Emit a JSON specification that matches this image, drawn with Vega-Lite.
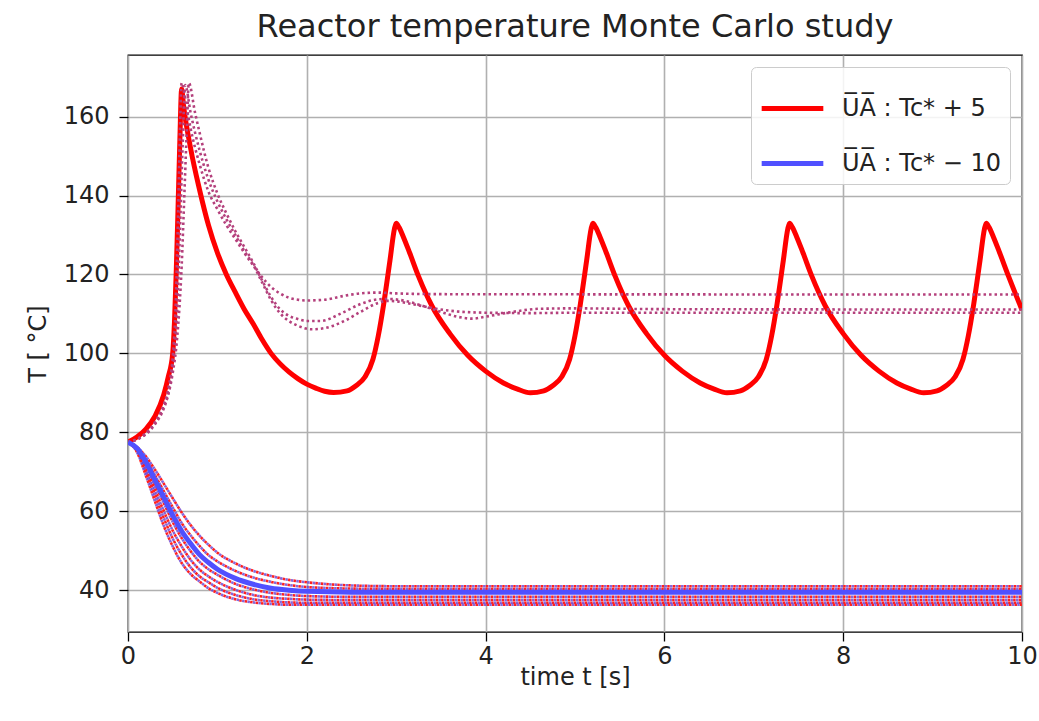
{
"$schema": "https://vega.github.io/schema/vega-lite/v6.json",
"width": 894, "height": 577,
"autosize": {"type": "none"},
"padding": {"left": 128, "top": 55, "right": 17, "bottom": 89},
"background": "white",
"title": {"text": "Reactor temperature Monte Carlo study", "font": "DejaVu Sans", "fontSize": 32, "fontWeight": "normal", "color": "#222", "offset": 11, "anchor": "middle"},
"datasets": {
"solid": [
{"s":"U\u0305A\u0305 : Tc* + 5","t":0,"v":77.5},{"s":"U\u0305A\u0305 : Tc* + 5","t":0.1,"v":78.8},{"s":"U\u0305A\u0305 : Tc* + 5","t":0.2,"v":80.8},{"s":"U\u0305A\u0305 : Tc* + 5","t":0.3,"v":84},{"s":"U\u0305A\u0305 : Tc* + 5","t":0.4,"v":89.5},{"s":"U\u0305A\u0305 : Tc* + 5","t":0.45,"v":94},{"s":"U\u0305A\u0305 : Tc* + 5","t":0.5,"v":100},{"s":"U\u0305A\u0305 : Tc* + 5","t":0.52,"v":108},{"s":"U\u0305A\u0305 : Tc* + 5","t":0.54,"v":121},{"s":"U\u0305A\u0305 : Tc* + 5","t":0.56,"v":137},{"s":"U\u0305A\u0305 : Tc* + 5","t":0.58,"v":154},{"s":"U\u0305A\u0305 : Tc* + 5","t":0.6,"v":167},{"s":"U\u0305A\u0305 : Tc* + 5","t":0.62,"v":163},{"s":"U\u0305A\u0305 : Tc* + 5","t":0.7,"v":152},{"s":"U\u0305A\u0305 : Tc* + 5","t":0.8,"v":141.5},{"s":"U\u0305A\u0305 : Tc* + 5","t":0.9,"v":132.5},{"s":"U\u0305A\u0305 : Tc* + 5","t":1.0,"v":125.5},{"s":"U\u0305A\u0305 : Tc* + 5","t":1.1,"v":120},{"s":"U\u0305A\u0305 : Tc* + 5","t":1.2,"v":115.5},{"s":"U\u0305A\u0305 : Tc* + 5","t":1.3,"v":111.2},{"s":"U\u0305A\u0305 : Tc* + 5","t":1.4,"v":107.5},{"s":"U\u0305A\u0305 : Tc* + 5","t":1.5,"v":103.5},{"s":"U\u0305A\u0305 : Tc* + 5","t":1.6,"v":100},{"s":"U\u0305A\u0305 : Tc* + 5","t":1.7,"v":97.4},{"s":"U\u0305A\u0305 : Tc* + 5","t":1.8,"v":95.3},{"s":"U\u0305A\u0305 : Tc* + 5","t":1.9,"v":93.6},{"s":"U\u0305A\u0305 : Tc* + 5","t":2.0,"v":92.2},{"s":"U\u0305A\u0305 : Tc* + 5","t":2.1,"v":91.2},{"s":"U\u0305A\u0305 : Tc* + 5","t":2.2,"v":90.4},{"s":"U\u0305A\u0305 : Tc* + 5","t":2.3,"v":90.1},
{"s":"U\u0305A\u0305 : Tc* + 5","t":2.45,"v":90.5},{"s":"U\u0305A\u0305 : Tc* + 5","t":2.55,"v":91.8},{"s":"U\u0305A\u0305 : Tc* + 5","t":2.65,"v":94},{"s":"U\u0305A\u0305 : Tc* + 5","t":2.74,"v":98.5},{"s":"U\u0305A\u0305 : Tc* + 5","t":2.8,"v":104.5},{"s":"U\u0305A\u0305 : Tc* + 5","t":2.86,"v":112.5},{"s":"U\u0305A\u0305 : Tc* + 5","t":2.93,"v":123.5},{"s":"U\u0305A\u0305 : Tc* + 5","t":2.98,"v":131.5},{"s":"U\u0305A\u0305 : Tc* + 5","t":3.0,"v":133},{"s":"U\u0305A\u0305 : Tc* + 5","t":3.03,"v":132},{"s":"U\u0305A\u0305 : Tc* + 5","t":3.08,"v":129.5},{"s":"U\u0305A\u0305 : Tc* + 5","t":3.15,"v":125.5},{"s":"U\u0305A\u0305 : Tc* + 5","t":3.25,"v":119.5},{"s":"U\u0305A\u0305 : Tc* + 5","t":3.4,"v":112},{"s":"U\u0305A\u0305 : Tc* + 5","t":3.6,"v":105},{"s":"U\u0305A\u0305 : Tc* + 5","t":3.8,"v":99.5},{"s":"U\u0305A\u0305 : Tc* + 5","t":4.0,"v":95.5},{"s":"U\u0305A\u0305 : Tc* + 5","t":4.2,"v":92.5},{"s":"U\u0305A\u0305 : Tc* + 5","t":4.35,"v":91},{"s":"U\u0305A\u0305 : Tc* + 5","t":4.5,"v":90},
{"s":"U\u0305A\u0305 : Tc* + 5","t":4.65,"v":90.5},{"s":"U\u0305A\u0305 : Tc* + 5","t":4.75,"v":91.8},{"s":"U\u0305A\u0305 : Tc* + 5","t":4.85,"v":94},{"s":"U\u0305A\u0305 : Tc* + 5","t":4.94,"v":98.5},{"s":"U\u0305A\u0305 : Tc* + 5","t":5.0,"v":104.5},{"s":"U\u0305A\u0305 : Tc* + 5","t":5.06,"v":112.5},{"s":"U\u0305A\u0305 : Tc* + 5","t":5.13,"v":123.5},{"s":"U\u0305A\u0305 : Tc* + 5","t":5.18,"v":131.5},{"s":"U\u0305A\u0305 : Tc* + 5","t":5.2,"v":133},{"s":"U\u0305A\u0305 : Tc* + 5","t":5.23,"v":132},{"s":"U\u0305A\u0305 : Tc* + 5","t":5.28,"v":129.5},{"s":"U\u0305A\u0305 : Tc* + 5","t":5.35,"v":125.5},{"s":"U\u0305A\u0305 : Tc* + 5","t":5.45,"v":119.5},{"s":"U\u0305A\u0305 : Tc* + 5","t":5.6,"v":112},{"s":"U\u0305A\u0305 : Tc* + 5","t":5.8,"v":105},{"s":"U\u0305A\u0305 : Tc* + 5","t":6.0,"v":99.5},{"s":"U\u0305A\u0305 : Tc* + 5","t":6.2,"v":95.5},{"s":"U\u0305A\u0305 : Tc* + 5","t":6.4,"v":92.5},{"s":"U\u0305A\u0305 : Tc* + 5","t":6.55,"v":91},{"s":"U\u0305A\u0305 : Tc* + 5","t":6.7,"v":90},
{"s":"U\u0305A\u0305 : Tc* + 5","t":6.85,"v":90.5},{"s":"U\u0305A\u0305 : Tc* + 5","t":6.95,"v":91.8},{"s":"U\u0305A\u0305 : Tc* + 5","t":7.05,"v":94},{"s":"U\u0305A\u0305 : Tc* + 5","t":7.14,"v":98.5},{"s":"U\u0305A\u0305 : Tc* + 5","t":7.2,"v":104.5},{"s":"U\u0305A\u0305 : Tc* + 5","t":7.26,"v":112.5},{"s":"U\u0305A\u0305 : Tc* + 5","t":7.33,"v":123.5},{"s":"U\u0305A\u0305 : Tc* + 5","t":7.38,"v":131.5},{"s":"U\u0305A\u0305 : Tc* + 5","t":7.4,"v":133},{"s":"U\u0305A\u0305 : Tc* + 5","t":7.43,"v":132},{"s":"U\u0305A\u0305 : Tc* + 5","t":7.48,"v":129.5},{"s":"U\u0305A\u0305 : Tc* + 5","t":7.55,"v":125.5},{"s":"U\u0305A\u0305 : Tc* + 5","t":7.65,"v":119.5},{"s":"U\u0305A\u0305 : Tc* + 5","t":7.8,"v":112},{"s":"U\u0305A\u0305 : Tc* + 5","t":8.0,"v":105},{"s":"U\u0305A\u0305 : Tc* + 5","t":8.2,"v":99.5},{"s":"U\u0305A\u0305 : Tc* + 5","t":8.4,"v":95.5},{"s":"U\u0305A\u0305 : Tc* + 5","t":8.6,"v":92.5},{"s":"U\u0305A\u0305 : Tc* + 5","t":8.75,"v":91},{"s":"U\u0305A\u0305 : Tc* + 5","t":8.9,"v":90},
{"s":"U\u0305A\u0305 : Tc* + 5","t":9.05,"v":90.5},{"s":"U\u0305A\u0305 : Tc* + 5","t":9.15,"v":91.8},{"s":"U\u0305A\u0305 : Tc* + 5","t":9.25,"v":94},{"s":"U\u0305A\u0305 : Tc* + 5","t":9.34,"v":98.5},{"s":"U\u0305A\u0305 : Tc* + 5","t":9.4,"v":104.5},{"s":"U\u0305A\u0305 : Tc* + 5","t":9.46,"v":112.5},{"s":"U\u0305A\u0305 : Tc* + 5","t":9.53,"v":123.5},{"s":"U\u0305A\u0305 : Tc* + 5","t":9.58,"v":131.5},{"s":"U\u0305A\u0305 : Tc* + 5","t":9.6,"v":133},{"s":"U\u0305A\u0305 : Tc* + 5","t":9.63,"v":132},{"s":"U\u0305A\u0305 : Tc* + 5","t":9.68,"v":129.5},{"s":"U\u0305A\u0305 : Tc* + 5","t":9.75,"v":125.5},{"s":"U\u0305A\u0305 : Tc* + 5","t":9.85,"v":119.5},{"s":"U\u0305A\u0305 : Tc* + 5","t":10.0,"v":111},
{"s":"U\u0305A\u0305 : Tc* \u2212 10","t":0,"v":77.5},{"s":"U\u0305A\u0305 : Tc* \u2212 10","t":0.1,"v":76},{"s":"U\u0305A\u0305 : Tc* \u2212 10","t":0.2,"v":72.5},{"s":"U\u0305A\u0305 : Tc* \u2212 10","t":0.3,"v":68},{"s":"U\u0305A\u0305 : Tc* \u2212 10","t":0.4,"v":63.5},{"s":"U\u0305A\u0305 : Tc* \u2212 10","t":0.5,"v":59},{"s":"U\u0305A\u0305 : Tc* \u2212 10","t":0.6,"v":55},{"s":"U\u0305A\u0305 : Tc* \u2212 10","t":0.7,"v":51.8},{"s":"U\u0305A\u0305 : Tc* \u2212 10","t":0.8,"v":49},{"s":"U\u0305A\u0305 : Tc* \u2212 10","t":0.9,"v":47},{"s":"U\u0305A\u0305 : Tc* \u2212 10","t":1.0,"v":45.3},{"s":"U\u0305A\u0305 : Tc* \u2212 10","t":1.2,"v":43},{"s":"U\u0305A\u0305 : Tc* \u2212 10","t":1.4,"v":41.5},{"s":"U\u0305A\u0305 : Tc* \u2212 10","t":1.6,"v":40.5},{"s":"U\u0305A\u0305 : Tc* \u2212 10","t":1.8,"v":40},{"s":"U\u0305A\u0305 : Tc* \u2212 10","t":2.0,"v":39.7},{"s":"U\u0305A\u0305 : Tc* \u2212 10","t":2.5,"v":39.5},{"s":"U\u0305A\u0305 : Tc* \u2212 10","t":10,"v":39.5}
],
"up": [
{"r":"u1","t":0,"v":77.5},{"r":"u1","t":0.1,"v":78.3},{"r":"u1","t":0.2,"v":79.8},{"r":"u1","t":0.3,"v":82.5},{"r":"u1","t":0.4,"v":87},{"r":"u1","t":0.45,"v":91},{"r":"u1","t":0.5,"v":99},{"r":"u1","t":0.53,"v":110},{"r":"u1","t":0.56,"v":135},{"r":"u1","t":0.58,"v":155},{"r":"u1","t":0.6,"v":168.5},{"r":"u1","t":0.65,"v":163},{"r":"u1","t":0.7,"v":157},{"r":"u1","t":0.8,"v":148},{"r":"u1","t":0.9,"v":141},{"r":"u1","t":1.0,"v":136.5},{"r":"u1","t":1.1,"v":132.5},{"r":"u1","t":1.2,"v":129},{"r":"u1","t":1.3,"v":125.5},{"r":"u1","t":1.4,"v":122.3},{"r":"u1","t":1.5,"v":119.3},{"r":"u1","t":1.6,"v":116.8},{"r":"u1","t":1.7,"v":115.2},{"r":"u1","t":1.8,"v":114.1},{"r":"u1","t":1.9,"v":113.6},{"r":"u1","t":2.0,"v":113.4},{"r":"u1","t":2.2,"v":113.6},{"r":"u1","t":2.4,"v":114.5},{"r":"u1","t":2.6,"v":115.2},{"r":"u1","t":2.8,"v":115.4},{"r":"u1","t":3.0,"v":115.2},{"r":"u1","t":3.5,"v":115},{"r":"u1","t":10,"v":114.9},
{"r":"u2","t":0,"v":77.5},{"r":"u2","t":0.1,"v":78.2},{"r":"u2","t":0.2,"v":79.5},{"r":"u2","t":0.3,"v":82},{"r":"u2","t":0.4,"v":86},{"r":"u2","t":0.45,"v":89.5},{"r":"u2","t":0.5,"v":95},{"r":"u2","t":0.55,"v":104},{"r":"u2","t":0.6,"v":122},{"r":"u2","t":0.63,"v":140},{"r":"u2","t":0.66,"v":158},{"r":"u2","t":0.68,"v":168.5},{"r":"u2","t":0.75,"v":161},{"r":"u2","t":0.8,"v":156},{"r":"u2","t":0.9,"v":147},{"r":"u2","t":1.0,"v":140.5},{"r":"u2","t":1.1,"v":135.5},{"r":"u2","t":1.2,"v":131},{"r":"u2","t":1.3,"v":127},{"r":"u2","t":1.4,"v":123},{"r":"u2","t":1.5,"v":118.5},{"r":"u2","t":1.6,"v":114.3},{"r":"u2","t":1.7,"v":111.2},{"r":"u2","t":1.8,"v":109.5},{"r":"u2","t":1.9,"v":108.7},{"r":"u2","t":2.0,"v":108.2},{"r":"u2","t":2.15,"v":108.2},{"r":"u2","t":2.4,"v":110.3},{"r":"u2","t":2.6,"v":112.5},{"r":"u2","t":2.8,"v":113.7},{"r":"u2","t":2.9,"v":113.8},{"r":"u2","t":3.1,"v":113.3},{"r":"u2","t":3.3,"v":112},{"r":"u2","t":3.5,"v":110.5},{"r":"u2","t":3.7,"v":109.2},{"r":"u2","t":3.85,"v":108.8},{"r":"u2","t":4.0,"v":109.3},{"r":"u2","t":4.3,"v":110.5},{"r":"u2","t":4.6,"v":111.3},{"r":"u2","t":5.0,"v":111.4},{"r":"u2","t":6.0,"v":111.2},{"r":"u2","t":10,"v":111.1},
{"r":"u3","t":0,"v":77.5},{"r":"u3","t":0.1,"v":78.2},{"r":"u3","t":0.2,"v":79.6},{"r":"u3","t":0.3,"v":82.2},{"r":"u3","t":0.4,"v":86.5},{"r":"u3","t":0.45,"v":90},{"r":"u3","t":0.5,"v":97},{"r":"u3","t":0.55,"v":111},{"r":"u3","t":0.58,"v":130},{"r":"u3","t":0.61,"v":152},{"r":"u3","t":0.64,"v":168},{"r":"u3","t":0.7,"v":161},{"r":"u3","t":0.8,"v":151.5},{"r":"u3","t":0.9,"v":144},{"r":"u3","t":1.0,"v":138.5},{"r":"u3","t":1.1,"v":134},{"r":"u3","t":1.2,"v":130},{"r":"u3","t":1.3,"v":126},{"r":"u3","t":1.4,"v":122.5},{"r":"u3","t":1.5,"v":118},{"r":"u3","t":1.6,"v":113.5},{"r":"u3","t":1.7,"v":110.2},{"r":"u3","t":1.8,"v":108.2},{"r":"u3","t":1.9,"v":107},{"r":"u3","t":2.05,"v":106.1},{"r":"u3","t":2.2,"v":106.4},{"r":"u3","t":2.4,"v":108},{"r":"u3","t":2.6,"v":110.5},{"r":"u3","t":2.8,"v":112.8},{"r":"u3","t":2.9,"v":113.3},{"r":"u3","t":3.0,"v":113.2},{"r":"u3","t":3.2,"v":112.4},{"r":"u3","t":3.4,"v":111.5},{"r":"u3","t":3.6,"v":110.8},{"r":"u3","t":4.0,"v":110.3},{"r":"u3","t":4.5,"v":110.2},{"r":"u3","t":5.0,"v":110.3},{"r":"u3","t":10,"v":110.3}
],
"low": [
{"r":"a","t":0,"v":77.5},{"r":"a","t":0.1,"v":76.3},{"r":"a","t":0.2,"v":73.9},{"r":"a","t":0.3,"v":70.6},{"r":"a","t":0.4,"v":67},{"r":"a","t":0.5,"v":63.3},{"r":"a","t":0.6,"v":59.7},{"r":"a","t":0.7,"v":56.5},{"r":"a","t":0.8,"v":53.8},{"r":"a","t":0.9,"v":51.5},{"r":"a","t":1.0,"v":49.5},{"r":"a","t":1.2,"v":46.8},{"r":"a","t":1.4,"v":44.9},{"r":"a","t":1.6,"v":43.6},{"r":"a","t":1.8,"v":42.6},{"r":"a","t":2.0,"v":42},{"r":"a","t":2.5,"v":41.2},{"r":"a","t":3.0,"v":41},{"r":"a","t":10,"v":41},
{"r":"b","t":0,"v":77.5},{"r":"b","t":0.1,"v":76.1},{"r":"b","t":0.2,"v":73.1},{"r":"b","t":0.3,"v":69.2},{"r":"b","t":0.4,"v":65.1},{"r":"b","t":0.5,"v":61},{"r":"b","t":0.6,"v":57},{"r":"b","t":0.7,"v":53.9},{"r":"b","t":0.8,"v":51.2},{"r":"b","t":0.9,"v":48.9},{"r":"b","t":1.0,"v":47.3},{"r":"b","t":1.2,"v":44.9},{"r":"b","t":1.4,"v":43.2},{"r":"b","t":1.6,"v":42.1},{"r":"b","t":1.8,"v":41.3},{"r":"b","t":2.0,"v":40.8},{"r":"b","t":2.5,"v":40.4},{"r":"b","t":3.0,"v":40.3},{"r":"b","t":10,"v":40.3},
{"r":"c","t":0,"v":77.5},{"r":"c","t":0.1,"v":75.9},{"r":"c","t":0.2,"v":71.9},{"r":"c","t":0.3,"v":66.9},{"r":"c","t":0.4,"v":62.1},{"r":"c","t":0.5,"v":57.3},{"r":"c","t":0.6,"v":53.2},{"r":"c","t":0.7,"v":49.9},{"r":"c","t":0.8,"v":47.2},{"r":"c","t":0.9,"v":45.3},{"r":"c","t":1.0,"v":43.9},{"r":"c","t":1.2,"v":41.6},{"r":"c","t":1.4,"v":40.2},{"r":"c","t":1.6,"v":39.3},{"r":"c","t":1.8,"v":38.8},{"r":"c","t":2.0,"v":38.5},{"r":"c","t":2.5,"v":38.3},{"r":"c","t":10,"v":38.3},
{"r":"d","t":0,"v":77.5},{"r":"d","t":0.1,"v":75.6},{"r":"d","t":0.2,"v":71},{"r":"d","t":0.3,"v":65.5},{"r":"d","t":0.4,"v":60.1},{"r":"d","t":0.5,"v":55.1},{"r":"d","t":0.6,"v":51.1},{"r":"d","t":0.7,"v":47.7},{"r":"d","t":0.8,"v":45.2},{"r":"d","t":0.9,"v":43.5},{"r":"d","t":1.0,"v":42.1},{"r":"d","t":1.2,"v":40.1},{"r":"d","t":1.4,"v":38.8},{"r":"d","t":1.6,"v":38.1},{"r":"d","t":1.8,"v":37.8},{"r":"d","t":2.0,"v":37.6},{"r":"d","t":2.5,"v":37.5},{"r":"d","t":10,"v":37.5},
{"r":"e","t":0,"v":77.5},{"r":"e","t":0.1,"v":75.3},{"r":"e","t":0.2,"v":70},{"r":"e","t":0.3,"v":64.2},{"r":"e","t":0.4,"v":58.3},{"r":"e","t":0.5,"v":53.1},{"r":"e","t":0.6,"v":49},{"r":"e","t":0.7,"v":45.8},{"r":"e","t":0.8,"v":43.5},{"r":"e","t":0.9,"v":42},{"r":"e","t":1.0,"v":40.6},{"r":"e","t":1.2,"v":38.8},{"r":"e","t":1.4,"v":37.7},{"r":"e","t":1.6,"v":37.2},{"r":"e","t":1.8,"v":36.9},{"r":"e","t":2.0,"v":36.8},{"r":"e","t":10,"v":36.8},
{"r":"f","t":0,"v":77.5},{"r":"f","t":0.1,"v":75},{"r":"f","t":0.2,"v":69},{"r":"f","t":0.3,"v":62.6},{"r":"f","t":0.4,"v":56.3},{"r":"f","t":0.5,"v":51.1},{"r":"f","t":0.6,"v":46.9},{"r":"f","t":0.7,"v":44.1},{"r":"f","t":0.8,"v":42.2},{"r":"f","t":0.9,"v":40.5},{"r":"f","t":1.0,"v":39.3},{"r":"f","t":1.2,"v":37.7},{"r":"f","t":1.4,"v":36.9},{"r":"f","t":1.6,"v":36.5},{"r":"f","t":1.8,"v":36.3},{"r":"f","t":10,"v":36.3}
]
},
"encoding": {
"x": {"field": "t", "type": "quantitative", "scale": {"domain": [0, 10], "nice": false}, "axis": {"title": "time t [s]", "values": [0,2,4,6,8,10], "format": "d", "labelFlush": false, "labelPadding": 3, "titlePadding": -3}},
"y": {"field": "v", "type": "quantitative", "scale": {"domain": [29.4, 175.6], "nice": false, "zero": false}, "axis": {"title": "T [ °C]", "values": [40,60,80,100,120,140,160], "labelFlush": false, "labelPadding": 10, "titlePadding": 13}}
},
"layer": [
{"data": {"name": "solid"}, "transform": [{"filter": "datum.s === 'U\u0305A\u0305 : Tc* + 5'"}],
 "mark": {"type": "line", "strokeWidth": 5, "interpolate": "monotone", "clip": true},
 "encoding": {"color": {"field": "s", "type": "nominal", "scale": {"domain": ["U\u0305A\u0305 : Tc* + 5", "U\u0305A\u0305 : Tc* \u2212 10"], "range": ["#ff0000", "#5050ff"]},
   "legend": {"title": null, "orient": "top-right", "offset": 12, "symbolType": "stroke", "symbolSize": 3800, "symbolStrokeWidth": 5, "labelFont": "DejaVu Sans", "labelFontSize": 24, "labelColor": "#222", "labelOffset": 16, "rowPadding": 9, "padding": 8, "strokeColor": "#cccccc", "fillColor": "rgba(255,255,255,0.85)", "cornerRadius": 5, "labelLimit": 400}}}},
{"data": {"name": "up"}, "mark": {"type": "line", "strokeWidth": 2.6, "color": "#b4407c", "strokeDash": [2.5, 3], "interpolate": "monotone", "clip": true},
 "encoding": {"detail": {"field": "r", "type": "nominal"}}},
{"data": {"name": "low"}, "mark": {"type": "line", "strokeWidth": 2.6, "color": "#ff2020", "strokeDash": [2.5, 3], "interpolate": "monotone", "clip": true},
 "encoding": {"detail": {"field": "r", "type": "nominal"}}},
{"data": {"name": "low"}, "mark": {"type": "line", "strokeWidth": 2.6, "color": "#6a40d0", "strokeDash": [2.5, 3], "strokeDashOffset": 2.7, "opacity": 0.8, "interpolate": "monotone", "clip": true},
 "encoding": {"detail": {"field": "r", "type": "nominal"}}},
{"data": {"name": "solid"}, "transform": [{"filter": "datum.s !== 'U\u0305A\u0305 : Tc* + 5'"}],
 "mark": {"type": "line", "strokeWidth": 5, "interpolate": "monotone", "clip": true},
 "encoding": {"color": {"field": "s", "type": "nominal"}}}
],
"config": {
"view": {"stroke": "#000", "strokeWidth": 1.3},
"axis": {"grid": true, "gridColor": "#b0b0b0", "gridWidth": 1.6, "domain": false, "tickColor": "#000", "tickSize": 9, "tickWidth": 1.3, "labelFont": "DejaVu Sans", "labelFontSize": 24, "labelColor": "#222", "titleFont": "DejaVu Sans", "titleFontSize": 24, "titleFontWeight": "normal", "titleColor": "#222"}
}
}
